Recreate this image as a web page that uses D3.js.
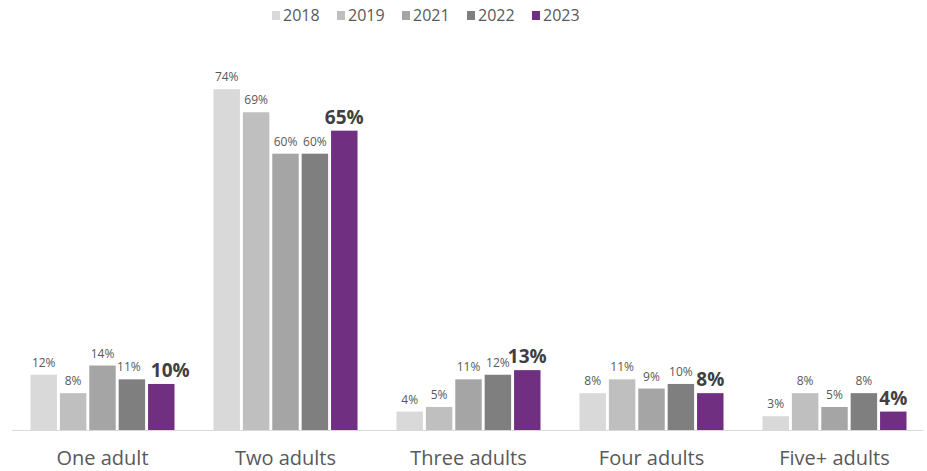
<!DOCTYPE html>
<html>
<head>
<meta charset="utf-8">
<script src="https://cdn.jsdelivr.net/npm/d3@7"></script>
<style>
  html, body { margin: 0; padding: 0; background: #fff; }
  svg { display: block; font-family: "Open Sans", "Noto Sans", sans-serif; }
</style>
</head>
<body>
<svg id="chart" width="927" height="471"></svg>
<script>
const categories = ["One adult", "Two adults", "Three adults", "Four adults", "Five+ adults"];
const years = ["2018", "2019", "2021", "2022", "2023"];
const v2018 = [12, 74, 4, 8, 3];
const v2019 = [8, 69, 5, 11, 8];
const v2021 = [14, 60, 11, 9, 5];
const v2022 = [11, 60, 12, 10, 8];
const v2023 = [10, 65, 13, 8, 4];
const seriesValues = [v2018, v2019, v2021, v2022, v2023];
const colors = ["#d9d9d9", "#bfbfbf", "#a5a5a5", "#7f7f7f", "#702f80"];

const svg = d3.select("#chart");
const baseY = 430;

const x0 = d3.scaleBand().domain(categories).range([11, 926]).paddingInner(0.213).paddingOuter(0.1065);
const x1 = d3.scaleBand().domain(years).range([0, x0.bandwidth()]).paddingInner(0.1);
const y = d3.scaleLinear().domain([0, 80]).range([baseY, baseY - 80 * 4.605]);
const color = d3.scaleOrdinal().domain(years).range(colors);

// axis line
svg.append("line")
  .attr("x1", 12).attr("x2", 923)
  .attr("y1", baseY + 0.5).attr("y2", baseY + 0.5)
  .attr("stroke", "#d9d9d9").attr("stroke-width", 1);

const data = [];
categories.forEach((c, ci) => {
  years.forEach((yr, yi) => {
    data.push({ cat: c, year: yr, value: seriesValues[yi][ci], last: yi === years.length - 1 });
  });
});

const g = svg.append("g");
g.selectAll("rect").data(data).join("rect")
  .attr("x", d => x0(d.cat) + x1(d.year))
  .attr("y", d => y(d.value))
  .attr("width", x1.bandwidth())
  .attr("height", d => baseY - y(d.value))
  .attr("fill", d => color(d.year));

// value labels
const nudge = { "One adult|2023": 9, "One adult|2022": -3 };
g.selectAll("text.val").data(data).join("text")
  .attr("class", "val")
  .attr("x", d => x0(d.cat) + x1(d.year) + x1.bandwidth() / 2 + (nudge[d.cat + "|" + d.year] || 0))
  .attr("y", d => y(d.value) - (d.last ? 7 : 8))
  .attr("text-anchor", "middle")
  .attr("font-size", d => d.last ? 19 : 12)
  .attr("font-weight", d => d.last ? 700 : 400)
  .attr("fill", d => d.last ? "#404040" : "#595959")
  .text(d => d.value + "%");

// category labels
const xAxis = svg.append("g").attr("transform", `translate(0,${baseY})`)
  .call(d3.axisBottom(x0).tickSize(0).tickPadding(0));
xAxis.select(".domain").remove();
xAxis.selectAll("text")
  .attr("y", 35)
  .attr("dy", 0)
  .attr("font-size", 20)
  .attr("font-family", "'Open Sans', 'Noto Sans', sans-serif")
  .attr("fill", "#595959");

// legend
const legendX = d3.scalePoint().domain(years).range([272, 532]);
const lg = svg.append("g").selectAll("g").data(years).join("g")
  .attr("transform", d => `translate(${legendX(d)},0)`);
lg.append("rect").attr("x", 0).attr("y", 11).attr("width", 8).attr("height", 9).attr("fill", d => color(d));
lg.append("text").attr("x", 11).attr("y", 21)
  .attr("font-size", 16).attr("fill", "#595959").text(d => d);
</script>
</body>
</html>
